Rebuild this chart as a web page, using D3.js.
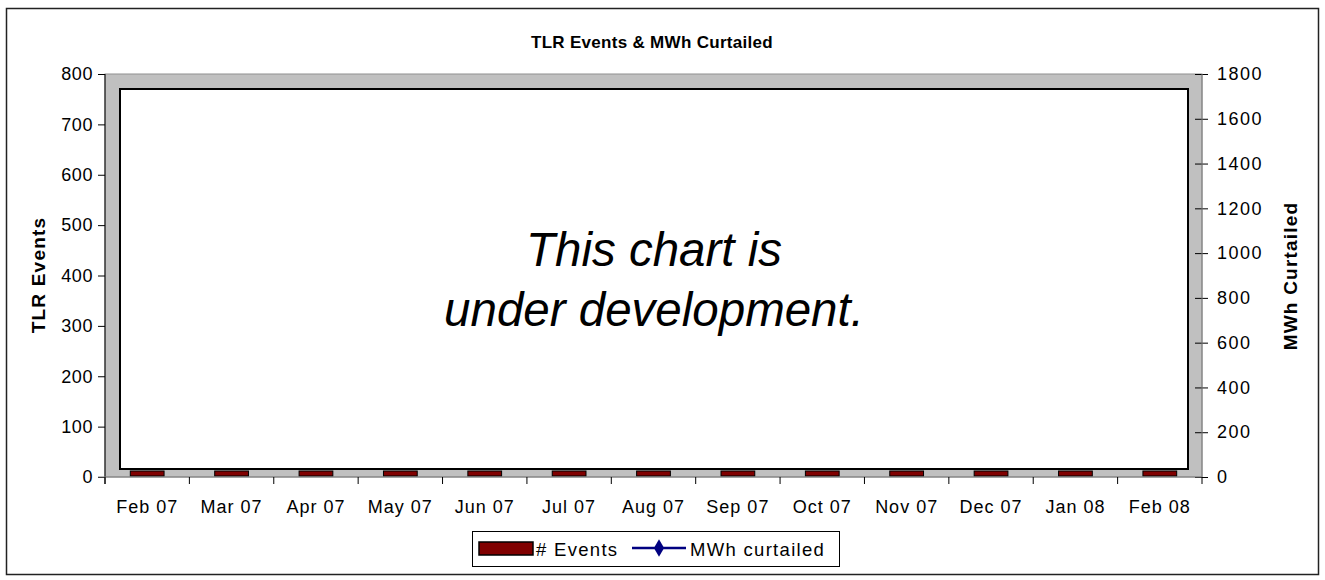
<!DOCTYPE html>
<html>
<head>
<meta charset="utf-8">
<script src="https://cdn.jsdelivr.net/npm/d3@7"></script>
<style>
  body { margin: 0; background: #fff; }
  text { font-family: Arial, "Liberation Sans", sans-serif; }
</style>
</head>
<body>
<div class="vis-chart"></div>
<script>
// chart data
var months = ["Feb 07", "Mar 07", "Apr 07", "May 07", "Jun 07", "Jul 07", "Aug 07",
              "Sep 07", "Oct 07", "Nov 07", "Dec 07", "Jan 08", "Feb 08"];
var events = [0, 0, 0, 0, 0, 0, 0, 0, 0, 0, 0, 0, 0];
var mwhCurtailed = [null, null, null, null, null, null, null, null, null, null, null, null, null];
var leftTicks = [0, 100, 200, 300, 400, 500, 600, 700, 800];
var rightTicks = [0, 200, 400, 600, 800, 1000, 1200, 1400, 1600, 1800];

var width = 1325, height = 580;
var plot = {left: 105, right: 1202, top: 74, bottom: 477};
var depth = 15;   // 3D wall depth
var floorDepth = 8;
var font = "Arial, 'Liberation Sans', sans-serif";

const svg = d3.select('.vis-chart').append('svg')
    .attr("width", width)
    .attr("height", height);

// outer chart border
svg.append("rect")
    .attr("x", 6.5).attr("y", 8.5)
    .attr("width", 1312).attr("height", 566)
    .attr("fill", "#fff")
    .attr("stroke", "#222")
    .attr("stroke-width", 1.5);

var x = d3.scaleBand()
    .domain(months)
    .range([plot.left, plot.right])
    .padding(0);

var yLeft = d3.scaleLinear()
    .domain([0, 800])
    .range([plot.bottom, plot.top]);

var yRight = d3.scaleLinear()
    .domain([0, 1800])
    .range([plot.bottom, plot.top]);

// gray walls
svg.append("rect")
    .attr("x", plot.left).attr("y", plot.top)
    .attr("width", plot.right - plot.left).attr("height", plot.bottom - plot.top)
    .attr("fill", "#c0c0c0")
    .attr("stroke", "#909090")
    .attr("stroke-width", 1);

// white back wall
svg.append("rect")
    .attr("x", plot.left + depth).attr("y", plot.top + depth)
    .attr("width", plot.right - plot.left - 2 * depth + 1)
    .attr("height", plot.bottom - plot.top - depth - floorDepth)
    .attr("fill", "#fff")
    .attr("stroke", "#000")
    .attr("stroke-width", 2);

// bars (# Events) - 3D floor thickness
var barW = x.bandwidth() * 0.4;
svg.selectAll('.bar')
    .data(events)
    .enter()
    .append('rect')
    .attr('class', 'bar')
    .attr('x', function(d, i) { return x(months[i]) + x.bandwidth() / 2 - barW / 2; })
    .attr('y', function(d) { return yLeft(d) - 6; })
    .attr('width', barW)
    .attr('height', function(d) { return yLeft(0) - yLeft(d) + 5; })
    .attr('fill', '#800000')
    .attr('stroke', '#000')
    .attr('stroke-width', 1);

// MWh line (no data yet)
var line = d3.line()
    .defined(function(d) { return d != null; })
    .x(function(d, i) { return x(months[i]) + x.bandwidth() / 2; })
    .y(function(d) { return yRight(d); });
svg.append("path")
    .datum(mwhCurtailed)
    .attr("d", line)
    .attr("fill", "none")
    .attr("stroke", "#000080")
    .attr("stroke-width", 2);
svg.selectAll('.pt')
    .data(mwhCurtailed.map(function(d, i) { return {v: d, i: i}; }).filter(function(d) { return d.v != null; }))
    .enter()
    .append('path')
    .attr('class', 'pt')
    .attr('d', d3.symbol().type(d3.symbolDiamond).size(60))
    .attr('transform', function(d) { return "translate(" + (x(months[d.i]) + x.bandwidth() / 2) + "," + yRight(d.v) + ")"; })
    .attr('fill', '#000080');

// left axis
var gL = svg.append("g")
    .attr("transform", "translate(" + plot.left + ",0)")
    .call(d3.axisLeft(yLeft).tickValues(leftTicks).tickSize(7).tickPadding(5));
gL.select(".domain").remove();
gL.append("line").attr("x1", 0).attr("x2", 0).attr("y1", plot.top).attr("y2", plot.bottom + 7).attr("stroke", "#000");
gL.selectAll(".tick line").attr("x1", 0).attr("x2", -7);
gL.selectAll(".tick text")
    .attr("font-size", 18).attr("letter-spacing", 0.6).attr("fill", "#000").attr("font-family", font);

// right axis
var gR = svg.append("g")
    .attr("transform", "translate(" + plot.right + ",0)")
    .call(d3.axisRight(yRight).tickValues(rightTicks).tickFormat(d3.format("d")).tickSize(6).tickPadding(9));
gR.select(".domain").remove();
gR.append("line").attr("x1", 0).attr("x2", 0).attr("y1", plot.top).attr("y2", plot.bottom).attr("stroke", "#808080");
gR.selectAll(".tick line").attr("x1", -7).attr("x2", 6).attr("stroke", "#000");
gR.selectAll(".tick text")
    .attr("font-size", 18).attr("letter-spacing", 1.5).attr("fill", "#000").attr("font-family", font);

// bottom axis
svg.append("line")
    .attr("x1", plot.left - 7).attr("x2", plot.right)
    .attr("y1", plot.bottom).attr("y2", plot.bottom)
    .attr("stroke", "#808080");
svg.selectAll(".xtick")
    .data(months.concat(["end"]))
    .enter()
    .append("line")
    .attr("class", "xtick")
    .attr("x1", function(d, i) { return plot.left + i * x.step(); })
    .attr("x2", function(d, i) { return plot.left + i * x.step(); })
    .attr("y1", plot.bottom)
    .attr("y2", plot.bottom + 7)
    .attr("stroke", "#000");
svg.selectAll(".xlabel")
    .data(months)
    .enter()
    .append("text")
    .attr("class", "xlabel")
    .attr("x", function(d) { return x(d) + x.bandwidth() / 2; })
    .attr("y", plot.bottom + 36)
    .attr("text-anchor", "middle")
    .attr("font-size", 18)
    .attr("letter-spacing", 1)
    .text(function(d) { return d; });

// title
svg.append("text")
    .attr("x", 652).attr("y", 48)
    .attr("text-anchor", "middle")
    .attr("font-size", 17)
    .attr("letter-spacing", 0.3)
    .attr("font-weight", "bold")
    .text("TLR Events & MWh Curtailed");

// axis titles
svg.append("text")
    .attr("transform", "translate(45,275) rotate(-90)")
    .attr("text-anchor", "middle")
    .attr("font-size", 19)
    .attr("letter-spacing", 1.2)
    .attr("font-weight", "bold")
    .text("TLR Events");
svg.append("text")
    .attr("transform", "translate(1297,276) rotate(-90)")
    .attr("text-anchor", "middle")
    .attr("font-size", 19)
    .attr("letter-spacing", 1.2)
    .attr("font-weight", "bold")
    .text("MWh Curtailed");

// under development note
svg.append("text")
    .attr("x", 654).attr("y", 266)
    .attr("text-anchor", "middle")
    .attr("font-size", 47.5)
    .attr("font-style", "italic")
    .text("This chart is");
svg.append("text")
    .attr("x", 654).attr("y", 326)
    .attr("text-anchor", "middle")
    .attr("font-size", 47.5)
    .attr("font-style", "italic")
    .text("under development.");

// legend
var lg = svg.append("g").attr("transform", "translate(472,531)");
lg.append("rect")
    .attr("x", 0.5).attr("y", 0.5).attr("width", 367).attr("height", 35)
    .attr("fill", "#fff").attr("stroke", "#000");
lg.append("rect")
    .attr("x", 7).attr("y", 11).attr("width", 54).attr("height", 13)
    .attr("fill", "#800000").attr("stroke", "#000").attr("stroke-width", 1.5);
lg.append("text")
    .attr("x", 64).attr("y", 25)
    .attr("font-size", 18.5)
    .attr("letter-spacing", 1.3)
    .text("# Events");
lg.append("line")
    .attr("x1", 160).attr("x2", 214).attr("y1", 17).attr("y2", 17)
    .attr("stroke", "#000080").attr("stroke-width", 2.5);
lg.append("path")
    .attr("d", d3.symbol().type(d3.symbolDiamond).size(90))
    .attr("transform", "translate(187,17)")
    .attr("fill", "#000080");
lg.append("text")
    .attr("x", 218).attr("y", 25)
    .attr("font-size", 18.5)
    .attr("letter-spacing", 1.3)
    .text("MWh curtailed");
</script>
</body>
</html>
